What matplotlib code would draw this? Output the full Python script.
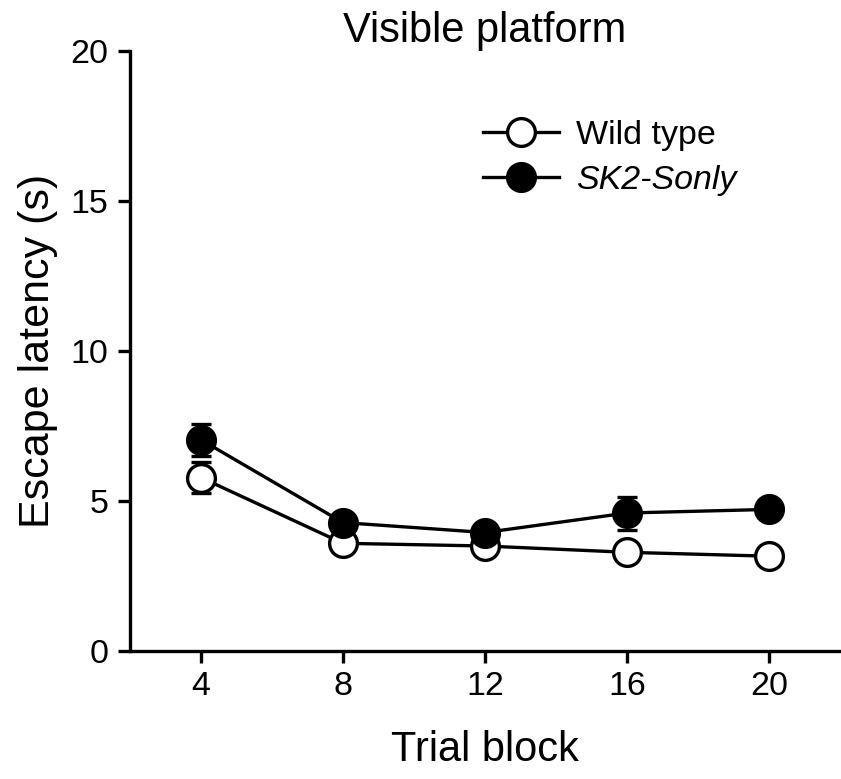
import numpy as np
import matplotlib
matplotlib.use("Agg")
import matplotlib.pyplot as plt
from matplotlib.lines import Line2D

plt.rcParams['font.family'] = ['Liberation Sans', 'DejaVu Sans']

# data
trial_block = [4, 8, 12, 16, 20]
wt_mean = [5.78, 3.59, 3.50, 3.29, 3.16]
wt_err = [0.52, 0.0, 0.0, 0.0, 0.0]
sk2_mean = [7.04, 4.28, 3.95, 4.60, 4.72]
sk2_err = [0.53, 0.0, 0.0, 0.55, 0.0]

fig = plt.figure(figsize=[8.41, 7.79], dpi=100)
ax = fig.add_axes([130/841, (779-651)/779, 710/841, 600/779])

lw = 2.4
ms = 20
ax.errorbar(trial_block, wt_mean, yerr=wt_err, color='black', lw=lw, marker='o',
            ms=ms, mfc='white', mec='black', mew=2.4, capsize=7, capthick=2.6,
            elinewidth=lw, zorder=3)
ax.errorbar(trial_block, sk2_mean, yerr=sk2_err, color='black', lw=lw, marker='o',
            ms=ms, mfc='black', mec='black', mew=2.4, capsize=7, capthick=2.6,
            elinewidth=lw, zorder=4)

ax.set_xlim(2, 22)
ax.set_ylim(0, 20)
ax.set_xticks(trial_block)
ax.set_yticks([0, 5, 10, 15, 20])
ax.spines['top'].set_visible(False)
ax.spines['right'].set_visible(False)
for s in ['left', 'bottom']:
    ax.spines[s].set_linewidth(lw)
ax.tick_params(direction='out', length=8.5, width=lw, labelsize=24.5)
ax.tick_params(axis='y', pad=7)
ax.tick_params(axis='x', pad=6)

ax.set_xlabel('Trial block', fontsize=30, labelpad=20)
ax.set_ylabel('Escape latency (s)', fontsize=31, labelpad=9)
ax.set_title('Visible platform', fontsize=30, pad=6)

handles = [Line2D([], [], color='black', lw=lw, marker='o', ms=ms, mfc='white', mec='black', mew=2.4),
           Line2D([], [], color='black', lw=lw, marker='o', ms=ms, mfc='black', mec='black', mew=2.4)]
leg = ax.legend(handles, ['Wild type', 'SK2-Sonly'], loc='upper left',
                bbox_to_anchor=(0.497, 0.885), frameon=False,
                fontsize=24.5, handlelength=2.25, handletextpad=0.5,
                borderpad=0, borderaxespad=0, labelspacing=0.4)
leg.get_texts()[1].set_fontstyle('italic')

fig.savefig('out.png', dpi=100)
